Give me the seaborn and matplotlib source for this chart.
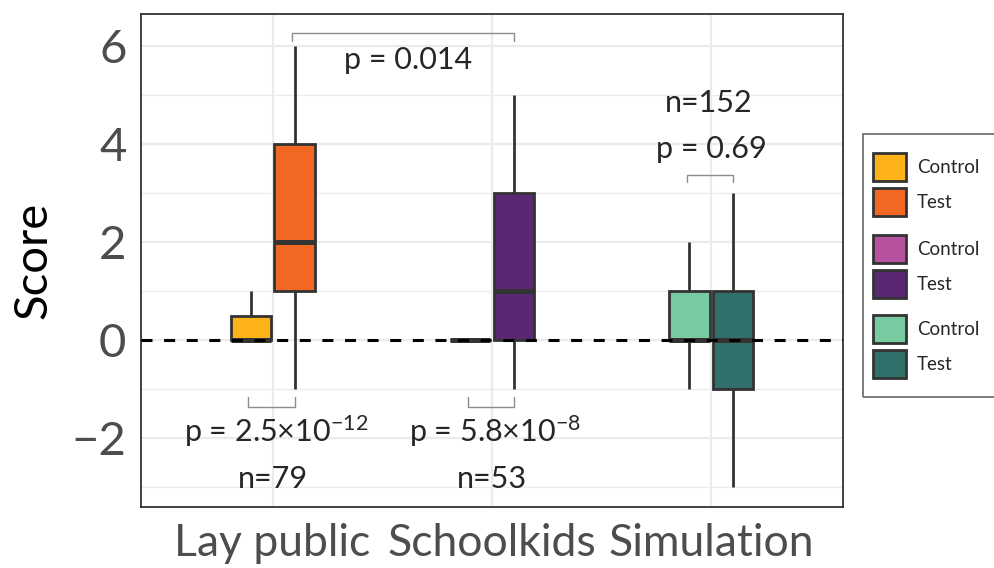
import matplotlib
matplotlib.use("Agg")
import matplotlib.pyplot as plt
from matplotlib.patches import Patch, Rectangle
import pandas as pd
import seaborn as sns

# groups and conditions
groups = ["Lay public", "Schoolkids", "Simulation"]
conditions = ["Control", "Test"]

# five-number values (min, q1, median, q3, max)
lay_control = [0, 0, 0, 0.5, 1]
lay_test = [-1, 1, 2, 4, 6]
school_control = [0, 0, 0, 0, 0]
school_test = [-1, 0, 1, 3, 5]
sim_control = [-1, 0, 0, 1, 2]
sim_test = [-3, -1, 0, 1, 3]

group_colors = {
    "Lay public": ["#FDB217", "#F26822"],
    "Schoolkids": ["#B850A0", "#5A2873"],
    "Simulation": ["#78CAA0", "#31706A"],
}

n_labels = ["n=79", "n=53", "n=152"]
p_within = ["p = 2.5×10$^{-12}$", "p = 5.8×10$^{-8}$", "p = 0.69"]
p_between = "p = 0.014"

sns.set_style("white")
plt.rcParams["font.family"] = ["Lato", "DejaVu Sans"]
plt.rcParams["mathtext.fontset"] = "custom"
plt.rcParams["mathtext.rm"] = "Lato"
plt.rcParams["mathtext.default"] = "regular"

rows = []
for g, ctrl, test in zip(groups, [lay_control, school_control, sim_control],
                         [lay_test, school_test, sim_test]):
    rows += [(g, "Control", v) for v in ctrl]
    rows += [(g, "Test", v) for v in test]
df = pd.DataFrame(rows, columns=["group", "condition", "score"])

fig = plt.figure(figsize=(9.95, 5.68), dpi=100)
ax = fig.add_axes([141 / 995, 1 - 507 / 568, 702 / 995, 493 / 568])

edge = "#333333"
sns.boxplot(data=df, x="group", y="score", hue="condition", order=groups,
            hue_order=conditions, width=0.4, gap=0.08, dodge=True,
            saturation=1, linecolor=edge, linewidth=2, showcaps=False,
            medianprops={"linewidth": 3.6}, legend=False, ax=ax, zorder=2)

# colour each box by its group and condition
for patch in ax.patches:
    pts = patch.get_transform().transform(patch.get_path().vertices).mean(axis=0)
    xd = ax.transData.inverted().transform(pts)[0]
    gi = int(round(xd))
    ci = 0 if xd < gi else 1
    patch.set_facecolor(group_colors[groups[gi]][ci])

ax.axhline(0, color="black", lw=2.2, ls=(0, (3.6, 3.8)), zorder=5)

ax.set_xlim(-0.6, 2.6)
ax.set_ylim(-3.41, 6.66)
ax.set_yticks([-2, 0, 2, 4, 6])
ax.set_yticks([-3, -1, 1, 3, 5], minor=True)
ax.grid(True, which="major", color="#EBEBEB", lw=1.6, zorder=0)
ax.grid(True, which="minor", axis="y", color="#EBEBEB", lw=0.9, zorder=0)
ax.set_axisbelow(True)
for s in ax.spines.values():
    s.set_color("#333333")
    s.set_linewidth(1.3)
ax.tick_params(axis="both", which="major", length=6.5, width=1.4,
               color="#333333", labelcolor="#4D4D4D", labelsize=34, pad=4)
ax.tick_params(axis="x", which="major", labelsize=32, pad=5)
ax.tick_params(axis="y", which="minor", length=0)
ax.set_xlabel("")
ax.set_ylabel("Score", fontsize=34, color="black", labelpad=12)

# significance brackets
bcol = "#8C8C8C"
ax.plot([0.09, 0.09, 1.1, 1.1], [6.1, 6.27, 6.27, 6.1], color=bcol, lw=1)
ax.text(0.616, 5.54, p_between, ha="center", va="baseline", fontsize=22)
for i in range(3):
    if i < 2:
        ax.plot([i - 0.11, i - 0.11, i + 0.1, i + 0.1],
                [-1.17, -1.37, -1.37, -1.17], color=bcol, lw=1)
        ax.text(i + 0.016, -2.09, p_within[i], ha="center", va="baseline", fontsize=22)
        ax.text(i, -3.03, n_labels[i], ha="center", va="baseline", fontsize=22)
    else:
        ax.plot([i - 0.11, i - 0.11, i + 0.1, i + 0.1],
                [3.23, 3.37, 3.37, 3.23], color=bcol, lw=1)
        ax.text(i, 3.72, p_within[i], ha="center", va="baseline", fontsize=22)
        ax.text(i - 0.01, 4.66, n_labels[i], ha="center", va="baseline", fontsize=22)

# legend: three stacked groups inside one frame
tops = [153, 235, 315]
for g, top in zip(groups, tops):
    handles = [Patch(facecolor=c, edgecolor=edge, lw=2) for c in group_colors[g]]
    fig.legend(handles, conditions, loc="upper left",
               bbox_to_anchor=(873 / 995, 1 - top / 568), frameon=False,
               fontsize=13.5, handlelength=1.75, handleheight=1.95,
               labelspacing=0.35, handletextpad=0.6, borderpad=0,
               borderaxespad=0)
fig.add_artist(Rectangle((863 / 995, 1 - 397 / 568), 140 / 995, 263 / 568,
                         transform=fig.transFigure, fill=False,
                         ec="#666666", lw=1.2))

fig.savefig("out.png", dpi=100)
